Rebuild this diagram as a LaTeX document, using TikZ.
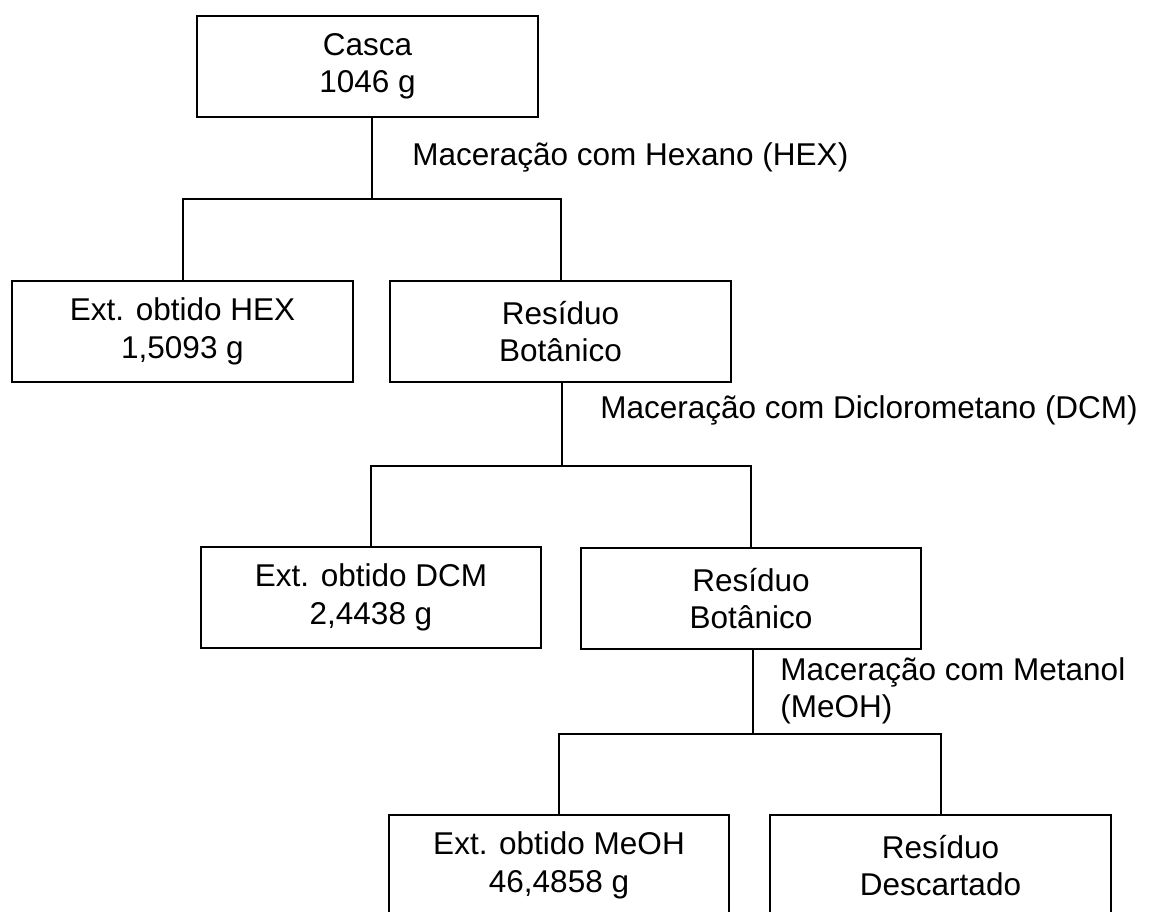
\documentclass[tikz,border=0pt]{standalone}
\usepackage{fontspec}
\setmainfont{Liberation Sans}
\begin{document}
\begin{tikzpicture}[x=0.5pt,y=-0.5pt,
  txt/.style={font=\fontsize{15.75pt}{18.75pt}\selectfont},
  box/.style={txt, draw, line width=1.2pt, align=center, inner sep=0pt,
              minimum width=170.5pt, minimum height=50.5pt},
  lbl/.style={txt, inner sep=0pt, align=left},
  conn/.style={line width=1pt}]
\useasboundingbox (0,0) rectangle (1150,911);
\fill[white] (0,0) rectangle (1150,911);
\clip (0,0) rectangle (1150,911);

% boxes
\node[box] (casca) at (367.5,66.5) {Casca\\1046 g};
\node[box] (hex)   at (182.5,331.5) {Ext. obtido HEX\\1,5093 g};
\node[box] (res1)  at (560.5,331.5) {Resíduo\\Botânico};
\node[box, minimum width=170pt] (dcm)  at (371,597.5) {Ext. obtido DCM\\2,4438 g};
\node[box, minimum width=170pt] (res2) at (751,598.5) {Resíduo\\Botânico};
\node[box, minimum width=170pt] (meoh) at (559,865.5) {Ext. obtido MeOH\\46,4858 g};
\node[box] (desc)  at (940.5,865.5) {Resíduo\\Descartado};

% connectors
\draw[conn] ([xshift=2.25pt]casca.south) -- ++(0,81) coordinate (j1);
\draw[conn] (hex.north) |- (j1) -| (res1.north);
\draw[conn] ([xshift=0.75pt]res1.south) -- ++(0,83) coordinate (j2);
\draw[conn] (dcm.north) |- (j2) -| (res2.north);
\draw[conn] ([xshift=1pt]res2.south) -- ++(0,84) coordinate (j3);
\draw[conn] (meoh.north) |- (j3) -| (desc.north);

% labels
\node[lbl, anchor=base west] (l1) at (412,165) {Maceração com Hexano (HEX)};
\node[lbl, anchor=base west] (l2) at (600,418) {Maceração com Diclorometano (DCM)};
\node[lbl, anchor=north west] (l3) at (780,657) {Maceração com Metanol\\(MeOH)};
\end{tikzpicture}
\end{document}
